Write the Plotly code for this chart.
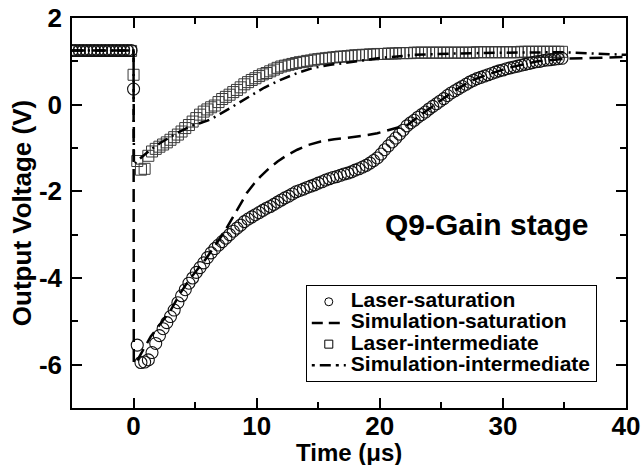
import numpy as np
import plotly.graph_objects as go

# ---------------- data ----------------
# Laser measurements, sampled every 0.3 us
pre_trigger_t = np.round(-5.0 + 0.3 * np.arange(17), 2)
pre_sat_v = [1.25, 1.25, 1.25, 1.25, 1.25, 1.25, 1.25, 1.25, 1.25, 1.25, 1.25, 1.25, 1.25, 1.25, 1.25, 1.25, 1.25]
pre_int_v = [1.24, 1.24, 1.24, 1.24, 1.24, 1.24, 1.24, 1.24, 1.24, 1.24, 1.24, 1.24, 1.24, 1.24, 1.24, 1.24, 1.24]

laser_sat_v = [
    0.36, -5.55, -5.95, -5.94, -5.89, -5.72, -5.51, -5.33, -5.17, -5.03,
    -4.89, -4.74, -4.57, -4.41, -4.27, -4.12, -4.00, -3.87, -3.76, -3.65,
    -3.53, -3.42, -3.32, -3.24, -3.16, -3.08, -3.00, -2.92, -2.85, -2.78,
    -2.70, -2.64, -2.59, -2.54, -2.49, -2.44, -2.39, -2.35, -2.30, -2.25,
    -2.20, -2.15, -2.11, -2.06, -2.01, -1.98, -1.95, -1.91, -1.88, -1.85,
    -1.81, -1.78, -1.74, -1.71, -1.68, -1.66, -1.63, -1.60, -1.58, -1.55,
    -1.51, -1.48, -1.44, -1.40, -1.35, -1.29, -1.23, -1.14, -1.04, -0.95,
    -0.86, -0.77, -0.68, -0.59, -0.49, -0.42, -0.36, -0.29, -0.23, -0.17,
    -0.10, -0.04, 0.02, 0.08, 0.14, 0.21, 0.27, 0.32, 0.37, 0.42,
    0.47, 0.52, 0.56, 0.60, 0.63, 0.66, 0.69, 0.72, 0.75, 0.78,
    0.80, 0.83, 0.85, 0.87, 0.89, 0.91, 0.93, 0.95, 0.97, 0.99,
    1.00, 1.02, 1.03, 1.04, 1.05, 1.06, 1.07,
]

laser_int_v = [
    0.69, -1.30, -1.50, -1.48, -1.18, -1.08, -1.02, -0.97, -0.92, -0.87,
    -0.81, -0.75, -0.69, -0.62, -0.54, -0.47, -0.39, -0.31, -0.23, -0.16,
    -0.11, -0.06, -0.02, 0.06, 0.13, 0.18, 0.23, 0.29, 0.34, 0.40,
    0.47, 0.52, 0.57, 0.61, 0.66, 0.70, 0.73, 0.77, 0.81, 0.85,
    0.88, 0.90, 0.92, 0.94, 0.96, 0.98, 0.99, 1.01, 1.02, 1.04,
    1.05, 1.06, 1.07, 1.08, 1.09, 1.10, 1.11, 1.11, 1.12, 1.13,
    1.14, 1.14, 1.15, 1.15, 1.16, 1.16, 1.17, 1.17, 1.17, 1.18,
    1.18, 1.18, 1.19, 1.19, 1.19, 1.19, 1.20, 1.20, 1.20, 1.20,
    1.20, 1.20, 1.20, 1.20, 1.20, 1.20, 1.20, 1.20, 1.20, 1.20,
    1.20, 1.20, 1.20, 1.21, 1.21, 1.21, 1.21, 1.21, 1.21, 1.21,
    1.21, 1.21, 1.21, 1.21, 1.21, 1.22, 1.22, 1.22, 1.22, 1.22,
    1.22, 1.22, 1.22, 1.22, 1.22, 1.22, 1.22,
]

# Simulations
sim_sat_t = [-5, 0, 0.02, 0.2, 0.6, 1.4, 2.2, 3.0, 3.8, 4.5, 5.2, 5.9, 6.5, 7.3, 8.1,
             8.7, 9.2, 9.8, 10.3, 11.0, 11.7, 12.5, 13.3, 14.2, 15.2, 16.3, 17.4,
             18.6, 19.8, 20.9, 22.3, 23.4, 24.7, 26.0, 27.4, 28.8, 30.6, 32.8,
             35.0, 37.5, 40.0]
sim_sat_v = [1.25, 1.25, -5.98, -5.96, -5.75, -5.35, -5.05, -4.75, -4.35, -4.05, -3.80,
             -3.55, -3.30, -2.97, -2.58, -2.28, -2.04, -1.82, -1.66, -1.47, -1.31,
             -1.16, -1.04, -0.93, -0.85, -0.80, -0.77, -0.72, -0.66, -0.57, -0.46,
             -0.22, 0.05, 0.31, 0.55, 0.70, 0.86, 1.00, 1.06, 1.08, 1.10]

sim_int_t = [-5, 0, 0.03, 0.5, 1.38, 2.2, 3.5, 4.6, 6.0, 6.5, 7.6, 8.7, 9.4, 10.6,
             12.0, 13.3, 14.6, 16.0, 17.4, 20.1, 22.8, 26.0, 30.0, 35.0, 37.5, 40.0]
sim_int_v = [1.25, 1.25, -1.38, -1.25, -1.04, -0.88, -0.66, -0.50, -0.37, -0.30,
             -0.12, 0.07, 0.19, 0.39, 0.58, 0.73, 0.85, 0.92, 0.97, 1.08, 1.15,
             1.18, 1.20, 1.21, 1.18, 1.15]

x_tick_vals = [0, 10, 20, 30, 40]
x_tick_text = ["0", "10", "20", "30", "40"]
y_tick_vals = [-6, -4, -2, 0, 2]
y_tick_text = ["-6", "-4", "-2", "0", "2"]

series_names = ["Laser-saturation", "Simulation-saturation",
                "Laser-intermediate", "Simulation-intermediate"]

# ---------------- figure ----------------
post_sat_t = np.round(0.3 * np.arange(len(laser_sat_v)), 2)
post_int_t = np.round(0.3 * np.arange(len(laser_int_v)), 2)

FONT = "Liberation Sans"
fig = go.Figure()

fig.add_trace(go.Scatter(
    x=list(pre_trigger_t) + list(post_int_t), y=pre_int_v + laser_int_v,
    mode="markers", showlegend=False,
    marker=dict(symbol="square-open", size=11, color="#3a3a3a", line=dict(width=1))))
fig.add_trace(go.Scatter(
    x=list(pre_trigger_t) + list(post_sat_t), y=pre_sat_v + laser_sat_v,
    mode="markers", showlegend=False,
    marker=dict(symbol="circle-open", size=12, color="#111111", line=dict(width=1.1))))
fig.add_trace(go.Scatter(
    x=sim_sat_t, y=sim_sat_v, mode="lines", showlegend=False,
    line=dict(color="black", width=2.5, dash="13px,7px")))
fig.add_trace(go.Scatter(
    x=sim_int_t, y=sim_int_v, mode="lines", showlegend=False,
    line=dict(color="black", width=2.5, dash="11px,5px,2px,5px")))


def big(name):
    return '<span style="font-size:21px">' + name + "</span>"


# legend entries
fig.add_trace(go.Scatter(x=[None], y=[None], mode="markers", name=big(series_names[0]),
                         marker=dict(symbol="circle-open", size=8, color="black", line=dict(width=1))))
fig.add_trace(go.Scatter(x=[None], y=[None], mode="lines", name=big(series_names[1]),
                         line=dict(color="black", width=2.5, dash="11px,6px")))
fig.add_trace(go.Scatter(x=[None], y=[None], mode="markers", name=big(series_names[2]),
                         marker=dict(symbol="square-open", size=8, color="black", line=dict(width=1))))
fig.add_trace(go.Scatter(x=[None], y=[None], mode="lines", name=big(series_names[3]),
                         line=dict(color="black", width=2.5, dash="3px,5px,11px,5px")))

axis_common = dict(
    showline=True, linecolor="black", linewidth=1.5, mirror="ticks",
    ticks="inside", ticklen=10, tickwidth=1.5, tickcolor="black",
    showgrid=False, zeroline=False, automargin=False,
    tickfont=dict(family=FONT, size=26, color="black", weight="bold"),
)

fig.update_xaxes(
    range=[-5, 40], tickmode="array", tickvals=x_tick_vals, ticktext=x_tick_text,
    ticklabelstandoff=-6,
    minor=dict(dtick=5, tick0=0, ticks="inside", ticklen=6, tickwidth=1.5, tickcolor="black"),
    **axis_common)
fig.update_yaxes(
    range=[-7, 2], tickmode="array", tickvals=y_tick_vals, ticktext=y_tick_text,
    ticklabelstandoff=3,
    minor=dict(dtick=1, tick0=0, ticks="inside", ticklen=6, tickwidth=1.5, tickcolor="black"),
    **axis_common)

# axis titles
fig.add_annotation(x=0.5, y=-0.114, xref="paper", yref="paper", text="Time (μs)",
                   showarrow=False, yanchor="middle",
                   font=dict(family=FONT, size=24, color="black", weight="bold"))
fig.add_annotation(x=-0.09, y=0.5, xref="paper", yref="paper", text="Output Voltage (V)",
                   showarrow=False, textangle=-90, xanchor="center", yanchor="middle",
                   font=dict(family=FONT, size=26, color="black", weight="bold"))

fig.add_annotation(x=28.7, y=-2.77, xref="x", yref="y", text="Q9-Gain stage", showarrow=False,
                   font=dict(family=FONT, size=30, color="black", weight="bold"))

fig.update_layout(
    width=642, height=465,
    margin=dict(l=72, r=16, t=18, b=57),
    paper_bgcolor="white", plot_bgcolor="white",
    legend=dict(x=0.422, y=0.315, xanchor="left", yanchor="top",
                bgcolor="white", bordercolor="black", borderwidth=1,
                font=dict(family=FONT, size=14, color="black", weight="bold"),
                tracegroupgap=0, itemwidth=34),
)

fig.write_html("out.html", config={"displayModeBar": False},
               post_script="document.body.style.margin='0px';")
